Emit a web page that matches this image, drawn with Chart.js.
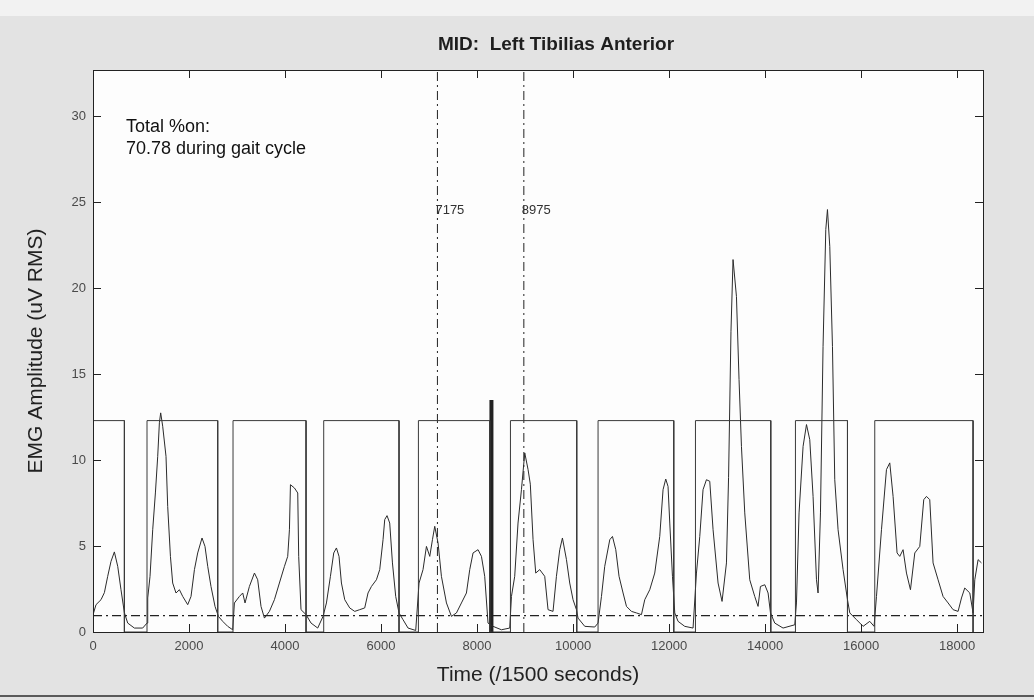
<!DOCTYPE html>
<html>
<head>
<meta charset="utf-8">
<script src="https://cdn.jsdelivr.net/npm/chart.js@4.4.1/dist/chart.umd.min.js"></script>
<style>
  html, body { margin: 0; padding: 0; background: #e3e3e3; }
  #wrap { width: 1034px; height: 700px; position: relative; }
</style>
</head>
<body>
<div id="wrap"><canvas id="emg" width="1034" height="700"></canvas></div>
<script>
// EMG trace (time in 1/1500 s, amplitude in uV RMS)
const emgTime = [0, 63, 167, 237, 306, 375, 445, 515, 583, 654, 723, 862, 1035, 1125,
  1140, 1188, 1244, 1300, 1348, 1383, 1410, 1452, 1521, 1556, 1613, 1660, 1729, 1800, 1869, 1973,
  2042, 2113, 2181, 2271, 2333, 2390, 2458, 2542, 2613, 2702, 2806, 2910,
  2946, 3050, 3119, 3167, 3258, 3363, 3431, 3500, 3571, 3675, 3779, 3883, 3988, 4056, 4092, 4113,
  4196, 4265, 4285, 4333, 4438, 4542, 4681,
  4792, 4863, 4946, 5015, 5071, 5125, 5175, 5244, 5348, 5452, 5556, 5660, 5729, 5800, 5904, 5973,
  6042, 6077, 6125, 6181, 6238, 6306, 6375, 6458, 6563, 6723,
  6792, 6875, 6946, 7015, 7071, 7119, 7188, 7258, 7363, 7467, 7571, 7675, 7779, 7848, 7917, 8021,
  8092, 8160, 8229, 8333, 8508, 8681,
  8717, 8785, 8854, 8925, 8994, 9063, 9110, 9167, 9223, 9306, 9410, 9479, 9583, 9654, 9723, 9779,
  9863, 9931, 10000, 10071, 10104, 10244, 10452, 10521,
  10592, 10660, 10765, 10821, 10890, 10958, 11042, 11113, 11217, 11321, 11425, 11494, 11598, 11702,
  11806, 11875, 11931, 11979, 12015, 12071, 12119, 12188, 12327, 12500,
  12571, 12640, 12708, 12779, 12848, 12917, 13021, 13104, 13196, 13240, 13290, 13333, 13404, 13458,
  13508, 13577, 13681, 13785, 13854, 13904, 13994, 14063, 14113, 14202, 14375, 14619,
  14654, 14708, 14792, 14863, 14931, 15000, 15071, 15104, 15154, 15208, 15265, 15300, 15348, 15404,
  15452, 15521, 15625, 15717, 15765, 15904, 16042, 16181, 16271,
  16321, 16425, 16529, 16598, 16667, 16750, 16806, 16875, 16946, 17029, 17119, 17223, 17306, 17363,
  17431, 17500, 17604, 17708, 17813, 17917, 18021, 18092, 18160, 18265, 18333, 18369, 18438, 18508];
const emgAmp = [1.0, 1.59, 1.88, 2.29, 3.24, 4.11, 4.66, 3.82, 2.46, 1.12, 0.52, 0.23, 0.23, 0.52,
  1.98, 3.24, 5.95, 8.09, 10.22, 12.17, 12.75, 11.97, 10.22, 7.31, 4.40, 2.85, 2.27, 2.46, 2.07, 1.59,
  2.07, 3.63, 4.60, 5.47, 4.98, 3.82, 2.65, 1.49, 0.91, 0.62, 0.33, 0.13,
  1.69, 2.07, 2.27, 1.69, 2.65, 3.43, 3.04, 1.49, 0.81, 1.20, 1.88, 2.85, 3.82, 4.40, 5.95, 8.57,
  8.38, 8.09, 4.40, 1.30, 1.01, 0.52, 0.23,
  0.91, 1.69, 3.24, 4.60, 4.89, 4.40, 2.85, 1.88, 1.40, 1.20, 1.30, 1.40, 2.27, 2.65, 3.04, 3.63,
  5.37, 6.54, 6.77, 6.34, 4.02, 2.07, 1.11, 0.72, 0.23, 0.09,
  2.85, 3.63, 4.98, 4.40, 5.37, 6.15, 5.18, 3.24, 1.69, 0.91, 1.11, 1.69, 2.27, 3.63, 4.60, 4.79,
  4.40, 3.24, 0.52, 0.33, 0.13, 0.23,
  2.07, 3.24, 6.34, 8.28, 10.42, 9.45, 8.60, 5.37, 3.43, 3.63, 3.24, 1.30, 1.20, 3.24, 4.79, 5.47,
  4.21, 2.85, 1.88, 1.30, 0.81, 0.33, 0.29, 0.52,
  2.07, 3.82, 5.37, 5.56, 4.79, 3.24, 2.27, 1.49, 1.20, 1.11, 1.01, 1.88, 2.46, 3.43,
  5.56, 8.28, 8.90, 8.47, 6.34, 3.24, 1.11, 0.62, 0.33, 0.23,
  3.43, 5.56, 8.28, 8.86, 8.77, 5.95, 2.85, 1.78, 4.02, 9.00, 17.50, 21.67, 19.53, 14.69,
  10.80, 6.93, 3.04, 2.07, 1.49, 2.65, 2.75, 2.27, 1.11, 0.52, 0.23, 0.42,
  1.69, 6.93, 10.80, 12.07, 11.19, 7.89, 3.04, 2.27, 6.93, 16.62, 23.42, 24.58, 22.44, 16.62,
  8.86, 5.95, 3.63, 1.88, 1.11, 0.72, 0.33, 0.62, 0.33,
  2.07, 5.95, 9.45, 9.84, 7.89, 4.60, 4.40, 4.79, 3.43, 2.46, 4.60, 4.98, 7.70, 7.89,
  7.70, 4.02, 3.04, 2.07, 1.69, 1.30, 1.20, 1.98, 2.56, 2.27, 1.11, 3.04, 4.21, 4.02];

// muscle "on" windows
const onStart = [0, 1125, 2917, 4806, 6779, 8696, 10521, 12550, 14633, 16285];
const onEnd   = [654, 2598, 4438, 6375, 8265, 10077, 12098, 14119, 15717, 18333];
const onLevel = 12.3;

const threshold = 0.95;
const markers = [7175, 8975];
const heelMark = 8300;
const heelMarkTop = 13.5;

const xTicks = [0, 2000, 4000, 6000, 8000, 10000, 12000, 14000, 16000, 18000];
const yTicks = [0, 5, 10, 15, 20, 25, 30];
const xMax = 18540;
const yMax = 32.7;

const FONT = '"Liberation Sans", Arial, sans-serif';

const emgPoints = emgTime.map((t, i) => ({x: t, y: emgAmp[i]}));

const boxPoints = [];
onStart.forEach((s, i) => {
  boxPoints.push({x: s, y: 0}, {x: s, y: onLevel}, {x: onEnd[i], y: onLevel}, {x: onEnd[i], y: 0});
});

const lineDs = (data, color, width, dash) => ({
  data: data,
  showLine: true,
  borderColor: color,
  borderWidth: width,
  borderDash: dash || [],
  pointRadius: 0,
  tension: 0,
  fill: false
});

const datasets = [
  lineDs(boxPoints, '#3a3a3a', 1),
  lineDs([{x: 0, y: threshold}, {x: xMax, y: threshold}], '#222', 1.3, [9, 4, 2, 4]),
  lineDs(emgPoints, '#2b2b2b', 1)
];
markers.forEach(m => {
  datasets.push(lineDs([{x: m, y: 0}, {x: m, y: yMax}], '#222', 1, [9, 4, 2, 4]));
});
datasets.push(lineDs([{x: heelMark, y: 0}, {x: heelMark, y: heelMarkTop}], '#222', 4));

const decor = {
  id: 'decor',
  beforeDraw(chart) {
    const {ctx, chartArea: a} = chart;
    ctx.save();
    ctx.fillStyle = '#f2f2f2';
    ctx.fillRect(0, 0, chart.width, 16);
    ctx.fillStyle = '#5a5a5a';
    ctx.fillRect(0, 695, chart.width, 2);
    ctx.fillStyle = '#fdfdfd';
    ctx.fillRect(a.left, a.top, a.right - a.left, a.bottom - a.top);
    ctx.restore();
  },
  afterDraw(chart) {
    const {ctx, chartArea: a} = chart;
    const xs = chart.scales.x, ys = chart.scales.y;
    ctx.save();
    // frame
    ctx.strokeStyle = '#222';
    ctx.lineWidth = 1;
    ctx.strokeRect(a.left + 0.5, a.top + 0.5, a.right - a.left, a.bottom - a.top);
    // inward ticks
    ctx.beginPath();
    xTicks.forEach(v => {
      const px = Math.round(xs.getPixelForValue(v)) + 0.5;
      ctx.moveTo(px, a.bottom); ctx.lineTo(px, a.bottom - 8);
      ctx.moveTo(px, a.top); ctx.lineTo(px, a.top + 8);
    });
    yTicks.forEach(v => {
      const py = Math.round(ys.getPixelForValue(v)) + 0.5;
      ctx.moveTo(a.left, py); ctx.lineTo(a.left + 8, py);
      ctx.moveTo(a.right, py); ctx.lineTo(a.right - 8, py);
    });
    ctx.stroke();

    // title, slightly condensed
    const title = 'MID:  Left Tibilias Anterior';
    ctx.fillStyle = '#1e1e1e';
    ctx.font = 'bold 19px ' + FONT;
    ctx.textAlign = 'center';
    ctx.textBaseline = 'middle';
    const w = ctx.measureText(title).width;
    const sx = Math.min(1, 253 / w);
    ctx.save();
    ctx.translate(556, 45);
    ctx.scale(sx, 1);
    ctx.fillText(title, 0, 0);
    ctx.restore();

    // marker labels
    ctx.font = '13px ' + FONT;
    ctx.textAlign = 'left';
    ctx.fillStyle = '#333';
    markers.forEach(m => {
      ctx.fillText(String(m), xs.getPixelForValue(m) - 2, 210);
    });

    // summary text
    ctx.font = '18px ' + FONT;
    ctx.fillStyle = '#111';
    ctx.fillText('Total %on:', 126, 127);
    ctx.fillText('70.78 during gait cycle', 126, 149);
    ctx.restore();
  }
};

new Chart(document.getElementById('emg'), {
  type: 'scatter',
  data: { datasets: datasets },
  options: {
    responsive: false,
    animation: false,
    layout: { padding: { top: 70, right: 51, bottom: 0, left: 0 } },
    plugins: { legend: { display: false }, tooltip: { enabled: false }, title: { display: false } },
    scales: {
      x: {
        type: 'linear',
        min: 0,
        max: xMax,
        grid: { display: false, drawTicks: false },
        border: { display: false },
        afterBuildTicks: s => { s.ticks = xTicks.map(v => ({value: v})); },
        afterFit: s => { s.height = 68; },
        ticks: {
          padding: 7,
          color: '#4a4a4a',
          font: { family: FONT, size: 13 },
          maxRotation: 0,
          callback: v => String(v)
        },
        title: {
          display: true,
          text: 'Time (/1500 seconds)',
          color: '#222',
          font: { family: FONT, size: 21 },
          padding: { top: 0, bottom: 12 }
        }
      },
      y: {
        type: 'linear',
        min: 0,
        max: yMax,
        grid: { display: false, drawTicks: false },
        border: { display: false },
        afterBuildTicks: s => { s.ticks = yTicks.map(v => ({value: v})); },
        afterFit: s => { s.width = 93; },
        ticks: {
          padding: 7,
          color: '#4a4a4a',
          font: { family: FONT, size: 13 },
          callback: v => String(v)
        },
        title: {
          display: true,
          text: 'EMG Amplitude (uV RMS)',
          color: '#222',
          font: { family: FONT, size: 21 },
          padding: { top: 24, bottom: 0 }
        }
      }
    }
  },
  plugins: [decor]
});
</script>
</body>
</html>
